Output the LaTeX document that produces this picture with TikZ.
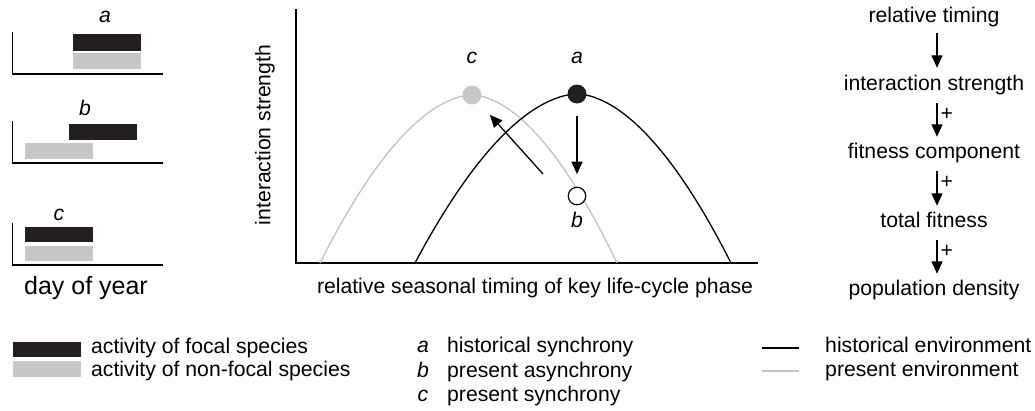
\documentclass[tikz,border=0pt]{standalone}
\usepackage{fontspec}
\setmainfont{Liberation Sans}
\usetikzlibrary{arrows.meta}
\definecolor{darkbar}{HTML}{231F20}
\definecolor{lightbar}{HTML}{C6C7C9}
\definecolor{curvegray}{HTML}{C2C2C2}
\begin{document}
\begin{tikzpicture}[x=1pt,y=-1pt,
  font=\fontsize{21.2}{25}\selectfont,
  axisline/.style={line width=1.3pt},
  tipline/.style={line width=1.3pt,-{Triangle[length=12.5pt,width=11pt]}},
  flowtext/.style={anchor=base,inner sep=0pt,text height=15pt,text depth=5pt},
  lbl/.style={anchor=base,inner sep=0pt,font=\fontsize{21.2}{25}\selectfont\itshape},
  legtext/.style={anchor=base west,inner sep=0pt},
  dot/.style={circle,inner sep=0pt,minimum size=19pt}]
\useasboundingbox (0,0) rectangle (1035,410);

% ---- left panels ----
\draw[axisline] (12.7,32) -- (12.7,74) -- (163,74);
\fill[darkbar] (73,34) rectangle (141,51);
\fill[lightbar] (73,53) rectangle (141,69);
\node[lbl] (la) at (105,22) {a};

\draw[axisline] (12.7,121) -- (12.7,163) -- (163,163);
\fill[darkbar] (69,124) rectangle (137,140);
\fill[lightbar] (25,143) rectangle (93,159);
\node[lbl] (lb) at (85,115) {b};

\draw[axisline] (12.7,223) -- (12.7,265) -- (163,265);
\fill[darkbar] (25,227) rectangle (93,242);
\fill[lightbar] (25,246) rectangle (93,261);
\node[lbl] (lc) at (59,220) {c};

\node[font=\fontsize{25}{28}\selectfont] (doy) at (86,288) {day of year};

% ---- middle panel ----
\draw[axisline] (296,9) -- (296,263) -- (758,263);
\node[rotate=90] (ylab) at (265,135) {interaction strength};
\node[anchor=base] (xlab) at (535,293) {relative seasonal timing of key life-cycle phase};

\draw[line width=1.3pt,curvegray]
  plot[domain=1:0.002,samples=80,variable=\t] ({472-152*\t},{95+168*\t^1.8})
  -- plot[domain=0.002:1,samples=80,variable=\t] ({472+145*\t},{95+168*\t^1.8});
\draw[line width=1.3pt,black]
  plot[domain=1:0.002,samples=80,variable=\t] ({577-162*\t},{94+169*\t^1.8})
  -- plot[domain=0.002:1,samples=80,variable=\t] ({577+154*\t},{94+169*\t^1.8});

\node[dot,fill=lightbar] (pc) at (472,95) {};
\node[dot,fill=darkbar] (pa) at (577,94) {};
\node[dot,minimum size=17.5pt,draw=black,line width=1.2pt,fill=white] (pb) at (577,196) {};

\node[lbl] (tc) at (472,63.5) {c};
\node[lbl] (ta) at (577,63.5) {a};
\node[lbl] (tb) at (577,227) {b};

\draw[tipline,shorten <=12.5pt,shorten >=12.5pt] (pa) -- (pb);
\coordinate (dstart) at (543,174);
\draw[tipline,shorten >=17pt] (dstart) -- (pc);

% ---- flow chart ----
\node[flowtext] (f1) at (934,22) {relative timing};
\node[flowtext] (f2) at (934,90) {interaction strength};
\node[flowtext] (f3) at (934,158) {fitness component};
\node[flowtext] (f4) at (934,227) {total fitness};
\node[flowtext] (f5) at (934,295) {population density};
\draw[tipline,shorten <=6pt,shorten >=7pt] ([xshift=3pt]f1.south) -- ([xshift=3pt]f2.north);
\draw[tipline,shorten <=8pt,shorten >=6pt] ([xshift=3pt]f2.south) -- ([xshift=3pt]f3.north)
  node[pos=0.4,right,inner sep=3pt] (p1) {+};
\draw[tipline,shorten <=8pt,shorten >=6pt] ([xshift=3pt]f3.south) -- ([xshift=3pt]f4.north)
  node[pos=0.4,right,inner sep=3pt] (p2) {+};
\draw[tipline,shorten <=8pt,shorten >=6pt] ([xshift=3pt]f4.south) -- ([xshift=3pt]f5.north)
  node[pos=0.4,right,inner sep=3pt] (p3) {+};

% ---- legend ----
\fill[darkbar] (13,342) rectangle (81,357);
\fill[lightbar] (13,361) rectangle (81,377);
\node[legtext] (lg1) at (91,353.5) {activity of focal species};
\node[legtext] (lg2) at (91,376.5) {activity of non-focal species};

\node[lbl] (ka) at (423,352.5) {a};
\node[lbl] (kb) at (423,377.5) {b};
\node[lbl] (kc) at (423,401.5) {c};
\node[legtext] (lg3) at (447,352.5) {historical synchrony};
\node[legtext] (lg4) at (447,377.5) {present asynchrony};
\node[legtext] (lg5) at (447,401.5) {present synchrony};

\coordinate (h1) at (762,348); \coordinate (h2) at (799,348);
\coordinate (g1) at (762,371); \coordinate (g2) at (799,371);
\draw[line width=1.3pt,black] (h1) -- (h2);
\draw[line width=1.3pt,curvegray] (g1) -- (g2);
\node[legtext] (lg6) at (825,352.5) {historical environment};
\node[legtext] (lg7) at (825,376) {present environment};
\end{tikzpicture}
\end{document}
